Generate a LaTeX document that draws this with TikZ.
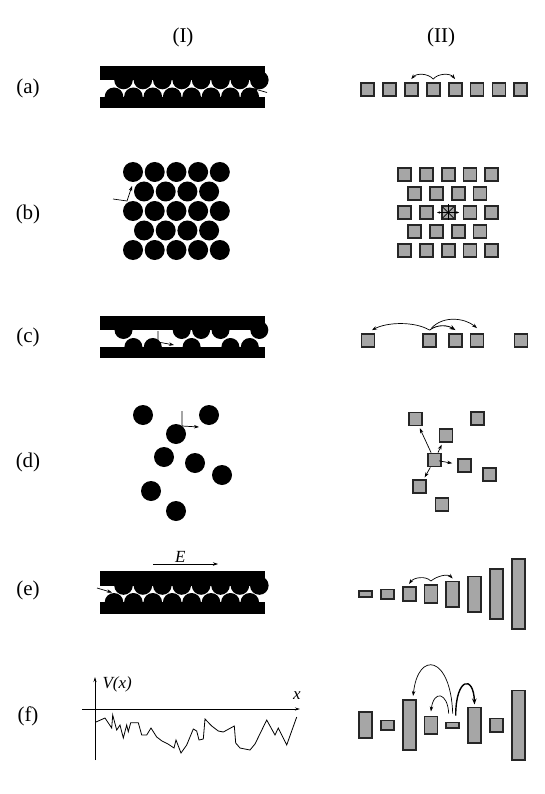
\documentclass[tikz,border=0pt]{standalone}
\usepackage{fontspec}
\setmainfont{Liberation Serif}
\usetikzlibrary{arrows.meta,calc}
\tikzset{
    site/.style={draw=black!85, line width=1.8pt, fill=gray!70, minimum size=13pt, inner sep=0pt},
    bar/.style={draw=black!85, line width=1.8pt, fill=gray!70, minimum width=13pt, inner sep=0pt},
    atom/.style={circle, fill=black, minimum size=20pt, inner sep=0pt},
    hop/.style={-{Stealth[length=5pt, width=3.5pt]}, line width=0.7pt},
    bighop/.style={-{Stealth[length=6pt, width=4.5pt]}, line width=1.4pt},
    axis/.style={-{Stealth[length=5pt, width=3pt]}, line width=0.8pt},
    rowlabel/.style={font=\fontsize{21}{24}\selectfont},
    axislabel/.style={font=\fontsize{17}{20}\selectfont\itshape}
}

\begin{document}
\begin{tikzpicture}[x=1pt, y=-1pt]
    \useasboundingbox (0,0) rectangle (545,794);
    % column and row labels
    \node[rowlabel] (colI) at (183,37) {(I)};
    \node[rowlabel] (colII) at (441,37) {(II)};
    \node[rowlabel] (rowa) at (28,88) {(a)};
    \node[rowlabel] (rowb) at (28,214) {(b)};
    \node[rowlabel] (rowc) at (28,337) {(c)};
    \node[rowlabel] (rowd) at (28,462) {(d)};
    \node[rowlabel] (rowe) at (28,590) {(e)};
    \node[rowlabel] (rowf) at (28,716) {(f)};

    % (a) I: filled channel between two plates
    \fill (100,66) rectangle (265,80);
    \fill (100,96.8) rectangle (265,108);
    \foreach \k in {0,...,7} {
        \fill (123.5+19.4*\k,80) circle[radius=9.3];
        \fill (114+19.4*\k,96.8) circle[radius=9.3];
    }
    \coordinate (aTail) at (267,92.5);
    \coordinate (aHead) at (253,88.5);
    \draw[hop] (aTail) -- (aHead);

    % (a) II: chain of sites
    \foreach \i in {1,...,8}
        \node[site] (a\i) at (367.5+21.9*\i-21.9,89.5) {};
    \draw[hop] ([yshift=3pt]a4.north) .. controls +(-5,-6) and +(5,-6) .. ([yshift=3pt]a3.north);
    \draw[hop] ([yshift=3pt]a4.north) .. controls +(5,-6) and +(-5,-6) .. ([yshift=3pt]a5.north);

    % (b) I: close-packed crystal
    \foreach \r in {0,2,4}
        \foreach \k in {0,...,4}
            \node[atom] (bI\r\k) at (133+21.7*\k,172+19.5*\r) {};
    \foreach \r in {1,3}
        \foreach \k in {0,...,3}
            \node[atom] (bI\r\k) at (144+21.7*\k,172+19.5*\r) {};
    \coordinate (bTail) at (113,199);
    \coordinate (bKnee) at (127,201);
    \coordinate (bHead) at (132,186);
    \draw[hop] (bTail) -- (bKnee) -- (bHead);

    % (b) II: lattice of sites
    \foreach \r in {1,3,5}
        \foreach \k in {1,...,5}
            \node[site] (b\r\k) at (404.5+21.8*\k-21.8,174.5+19*\r-19) {};
    \foreach \r in {2,4}
        \foreach \k in {1,...,4}
            \node[site] (b\r\k) at (414.5+21.8*\k-21.8,174.5+19*\r-19) {};
    \foreach \ang in {45,90,...,315}
        \draw[line width=0.6pt] (b33.center) -- +(\ang:8);
    \draw[line width=0.6pt, {Stealth[length=3pt, width=2.5pt]}-{Stealth[length=3pt, width=2.5pt]}] ([xshift=-11pt]b33.center) -- ([xshift=11pt]b33.center);

    % (c) I: channel with vacancies
    \fill (100,316) rectangle (265,330);
    \fill (100,347) rectangle (265,358);
    \foreach \k in {0,3,4,5,7}
        \fill (123.5+19.4*\k,330) circle[radius=9];
    \foreach \k in {1,2,4,6,7}
        \fill (114+19.4*\k,347) circle[radius=9];
    \coordinate (cTail) at (158,331);
    \coordinate (cKnee) at (158,342);
    \coordinate (cHead) at (174,345);
    \draw[hop] (cTail) -- (cKnee) -- (cHead);

    % (c) II: diluted chain
    \node[site] (c1) at (368,340.5) {};
    \node[site] (c2) at (429.5,340.5) {};
    \node[site] (c3) at (455.5,340.5) {};
    \node[site] (c4) at (477,340.5) {};
    \node[site] (c5) at (521,340.5) {};
    \draw[hop] ([yshift=3pt]c2.north) .. controls +(-15,-9) and +(15,-8) .. ([xshift=4pt,yshift=3pt]c1.north);
    \draw[bighop, line width=0.9pt] ([yshift=3pt]c2.north) .. controls +(8,-6) and +(-8,-5) .. ([yshift=3pt]c3.north);
    \draw[hop] ([xshift=2pt,yshift=5pt]c2.north) .. controls +(12,-13) and +(-12,-10) .. ([yshift=5pt]c4.north);

    % (d) I: gas of atoms
    \node[atom] (dI1) at (143,415) {};
    \node[atom] (dI2) at (209,415) {};
    \node[atom] (dI3) at (176,434) {};
    \node[atom] (dI4) at (164,457) {};
    \node[atom] (dI5) at (195,463) {};
    \node[atom] (dI6) at (222,475) {};
    \node[atom] (dI7) at (151,491) {};
    \node[atom] (dI8) at (176,511) {};
    \coordinate (dTail) at (182,411);
    \coordinate (dKnee) at (182,426);
    \coordinate (dHead) at (199,427);
    \draw[hop] (dTail) -- (dKnee) -- (dHead);

    % (d) II: random sites
    \node[site] (d1) at (415.5,419) {};
    \node[site] (d2) at (477.5,418.5) {};
    \node[site] (d3) at (446,435.5) {};
    \node[site] (d4) at (434.5,460) {};
    \node[site] (d5) at (464.5,465.5) {};
    \node[site] (d6) at (489.5,474.5) {};
    \node[site] (d7) at (419.5,486.5) {};
    \node[site] (d8) at (442,504.5) {};
    \draw[hop, shorten >=2pt] (d4) -- (d1);
    \draw[hop, shorten >=2pt] (d4) -- (d3);
    \draw[hop, shorten <=-3pt, shorten >=5pt] (d4) -- (d5);
    \draw[hop, shorten >=2pt] (d4) -- (d7);

    % (e) I: channel under a field
    \coordinate (eL) at (153,564);
    \coordinate (eR) at (218,564);
    \draw[hop] (eL) -- node[axislabel, above, pos=0.42, inner sep=1pt] {E} (eR);
    \fill (100,571) rectangle (265,585.5);
    \fill (100,602.3) rectangle (265,614);
    \foreach \k in {0,...,7} {
        \fill (123.5+19.4*\k,585.5) circle[radius=9.3];
        \fill (114+19.4*\k,602.3) circle[radius=9.3];
    }
    \coordinate (eTail) at (97,588);
    \coordinate (eHead) at (112,592.5);
    \draw[hop] (eTail) -- (eHead);

    % (e) II: graded sites
    \foreach \i/\h in {1/8,2/11,3/16,4/20,5/27,6/37,7/52,8/72}
        \node[bar, minimum height=\h pt-1.8pt] (e\i) at (365.5+21.8*\i-21.8,594) {};
    \draw[hop] ([yshift=3pt]e4.north) .. controls +(-6,-6) and +(4,-6) .. ([yshift=2pt]e3.north);
    \draw[hop] ([yshift=3pt]e4.north) .. controls +(6,-5) and +(-5,-5) .. ([yshift=2pt]e5.north);

    % (f) I: random potential
    \coordinate (vBot) at (95,760);
    \coordinate (vTop) at (95,677);
    \coordinate (xL) at (82,709);
    \coordinate (xR) at (300,709);
    \draw[axis] (vBot) -- (vTop);
    \draw[axis] (xL) -- (xR);
    \node[axislabel, anchor=west] (vlab) at (99,684) {V(x)};
    \node[axislabel] (xlab) at (297,696) {x};
    \draw[line width=0.8pt, line join=miter] (96,722) -- (105,718) -- (111.7,728) -- (112.7,715) -- (116.7,730)
        -- (120,725) -- (123.3,738) -- (126.7,725) -- (128.3,731.7) -- (130.7,722.7) -- (138.3,722.7)
        -- (141.7,735) -- (146.7,735) -- (151,728) -- (156.7,737) -- (162,741) -- (168,744)
        -- (174,748) -- (176,740) -- (181,753) -- (186.7,745) -- (193.3,729) -- (196.7,731)
        -- (199,740) -- (203.3,739) -- (205,719) -- (211.7,726) -- (218.3,731) -- (223.3,732)
        -- (234.3,726) -- (235.7,743) -- (240,748) -- (250,750) -- (255,744) -- (266.7,720)
        -- (275,735) -- (278.3,728) -- (286.7,745) -- (296.7,717);

    % (f) II: disordered sites
    \foreach \i/\h in {1/28,2/11,3/52,4/19,5/7,6/37,7/15,8/71}
        \node[bar, minimum height=\h pt-1.8pt] (f\i) at (365.5+21.8*\i-21.8,725) {};
    \draw[hop] ([yshift=8pt]f5.north) .. controls +(-2,-58) and +(5,-46) .. ([xshift=4pt,yshift=3pt]f3.north);
    \draw[hop] ([xshift=-4pt,yshift=8pt]f5.north) .. controls +(-1,-21) and +(3,-22) .. ([yshift=4pt]f4.north);
    \draw[bighop] ([xshift=3pt,yshift=6pt]f5.north) .. controls +(0,-38) and +(-1,-30) .. ([yshift=2pt]f6.north);
\end{tikzpicture}
\end{document}
